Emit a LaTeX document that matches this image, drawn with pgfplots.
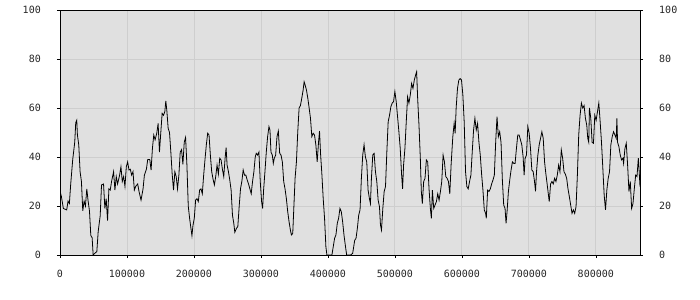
\documentclass[border=0pt]{standalone}
\usepackage{fontspec}
\setmainfont{DejaVu Sans Mono}
\usepackage{pgfplots}
\pgfplotsset{compat=1.18}
\definecolor{bgc}{RGB}{224,224,224}
\definecolor{gridc}{RGB}{206,206,206}
\pgfplotstableread{
x y
0 26
2000 24
5000 19
10000 18.4
12000 22
14000 21
16000 29
19000 39
22000 46
23500 54
25000 55
26000 49
28000 45
30000 34
32000 30
34000 18
36000 22
38000 20
40000 27
42000 22
44000 18
46000 8
48000 7
49500 0
52000 0.7
55000 1.4
57000 9.5
60000 16
62000 28.6
65000 29
67000 19
69000 23
71000 14
73000 27
75000 26.5
77000 30
80000 34
82000 26.5
84000 32
86000 29
89000 32.6
91000 36
93000 30
95000 32
97000 28
99000 36
101000 38
103000 34.7
105000 35
107000 32.6
109000 34
111000 26.5
113000 28
116000 29
118000 25.9
121000 22.4
124000 27
126000 32.6
129000 35
131000 39
134000 39
136000 34.7
138000 43.5
140000 49
142000 47
144500 49.7
146500 53.7
148500 42
150500 50
152500 57.8
154500 57
156500 58.5
158000 62.9
159500 59
161500 51.7
163500 50
165500 42
167500 33
169500 26.5
171500 34
173500 32
175500 27
177500 32.6
179500 42
181500 43
183500 37
185500 46
187500 48
189500 36.7
191500 20
193500 15
195500 10.9
197000 7.9
198500 12
200500 15
202500 22.4
204500 23
206500 21.8
208500 26.5
210500 27
212500 25
214500 32.6
216500 39
218500 45
220500 49.7
222500 49
224500 40.8
226500 34
228500 31
230500 28.6
232500 32
234500 36.7
236500 33
238500 39.5
240500 38.8
242500 35
244500 32
246500 39.5
248000 43.8
249500 36.7
251500 34
253500 30.6
255500 26.5
257500 16.3
259500 12.9
261000 9.3
263500 10.9
265500 11.6
267500 19.7
269500 27
271500 30
273500 34.7
275500 32.6
277500 32.6
279500 30.6
281500 29
283500 27
285500 25
287500 30
289500 34
291500 40
293000 41.5
295000 40.8
297000 42
299000 30
301000 21.8
302500 19
304000 26.5
306000 34
308000 42
310000 48.3
312000 52.4
313500 51
315000 42
317000 40.8
318500 37.4
320000 39.5
322000 40.8
324000 48.3
326000 50.6
328000 41.5
330000 40.8
332000 38
334000 30
336000 27
338000 23
340000 17.7
342000 13.6
344000 10.2
345500 8.2
347500 8.8
349000 18.4
351000 31.3
353000 38
355000 50.3
357000 60
359000 61
361000 64
363000 67.3
364500 70.7
366000 69.4
368000 67.3
370000 64
372000 60
374000 55.8
376000 48.3
378000 49.7
380000 49
382000 45
384000 38
386000 46
387500 50.6
389000 41.5
391000 33
393000 23
395000 15
397000 3.4
398500 0
406000 0
408000 3.4
410000 6.8
412000 8.2
414000 12.9
416000 15
418000 19
420000 17.7
422000 13.6
424000 8.2
426000 4
428000 0
434000 0
437000 0.7
440000 6
442000 6.8
444000 10.9
446000 16.3
448000 18.4
450000 31.3
452000 40.8
454000 45
456000 40
458000 38
460000 26.5
462000 23
463500 21
465000 31.3
467000 40.8
469000 41.5
471000 34
473000 30
475000 22.4
477000 19.7
478500 12.2
480000 10.2
482000 19
484000 25.9
486000 27.9
488000 42
490000 54.4
492000 57
494000 60.5
496000 62
498000 62.6
500000 66.7
502000 62.6
504000 56.5
506000 50.3
508000 43.5
510000 33
511500 27
513000 36.7
515000 43.5
517000 54.4
519000 64.6
521000 62
523000 65.3
525000 70
527000 68
529000 71.4
531000 73.5
532500 74.8
534000 64
536000 53
538000 39.5
539500 25.9
541000 21
543000 30
545000 31.3
547000 38.8
549000 38
551000 27
553000 19
554500 15
556000 26.5
558000 19
560000 20.4
562000 21.8
564000 25
566000 22.4
568000 25.9
570000 30
572000 40.8
574000 38
576000 32
578000 31.3
580000 30
582000 25
584000 37
586500 48.3
588500 53.7
590000 49.7
591500 60
593500 68
595500 71.4
597500 72
599500 71.4
601500 65.3
603500 54.4
605500 34
607500 27.9
609500 27
611500 30
613500 32.6
615500 42
617500 51
619500 55.8
621500 51
623500 53.7
625500 46
627500 40.8
629500 33
631500 26.5
633500 18.4
635500 17
636500 15
638500 26.5
640500 25.9
642500 27
644500 29
646500 30.6
648500 32.6
650500 46
652500 56.5
654500 48.3
656500 50.3
658500 46
660500 30.6
662500 20.4
664500 19
666000 12.9
667500 17.7
669500 25.9
671500 30.6
673500 34.7
675500 38
677500 37.4
679500 37.4
681500 43.5
683500 49
685500 49
687500 47
689500 45
691500 40
693000 32.6
694500 39.5
696500 40.8
698500 52.4
700500 49.7
702500 43.5
704500 34.7
706500 34
708500 30
710000 26
711500 34
713500 40.8
715500 45
717500 47.6
719500 50.3
721500 47.6
723500 38
725500 33
727500 28.6
729500 24
730500 21.8
732500 29
734500 30
736500 29
738500 31.3
740500 30
742500 32.6
744500 36.7
746500 34
748500 42.9
750500 39.5
752500 34
754500 33
756500 31.3
758500 27
760500 23.8
762500 20.4
764500 17
766500 18.4
768500 17
770500 19.7
772500 32.6
774500 49
776500 57
778500 62
780500 60
782500 61
784500 55.8
786500 53
788000 47.6
789500 46
790500 60
792500 55.8
794500 46
796500 45.6
798500 57
800500 55
802500 58.5
804500 62
806500 54.4
808500 46
810500 35.4
812500 24.5
814500 18.4
816500 26.5
818500 31.3
820500 34
822500 45
824500 48.3
826500 50.3
828500 49
830500 47.6
831500 55.8
832500 46
834500 44.2
836500 40.8
838500 38.8
840500 39.5
841500 37.4
843500 43.5
845500 45.6
847500 36.7
849500 25.9
851500 30
853500 19
855500 21
857500 27
859500 32.6
861500 32
863500 39.5
864500 35.4
866000 27.9
}\series

\pgfplotsset{
  common/.style={
    at={(60bp,45bp)}, anchor=south west,
    scale only axis, width=580bp, height=245bp,
    xmin=0, xmax=866000, ymin=0, ymax=100,
    xtick={0,100000,...,800000},
    ytick={0,20,...,100},
    scaled x ticks=false,
    tick align=outside,
    major tick length=3bp,
    tick style={black, line width=0.6bp},
    axis line style={black, line width=0.8bp},
    /pgf/number format/assume math mode=true,
    /pgf/number format/fixed,
    /pgf/number format/1000 sep={},
    every tick label/.append style={font=\fontsize{10bp}{12bp}\selectfont, text=black!85},
  }
}

\begin{document}
\begin{tikzpicture}
\path[use as bounding box] (0,0) rectangle (700bp,300bp);
\begin{axis}[common,
  axis background/.style={fill=bgc},
  grid=major,
  major grid style={gridc, line width=0.8bp},
  xtick pos=left, ytick pos=left,
  yticklabel style={anchor=east, inner sep=0pt, xshift=-16bp},
  xticklabel style={anchor=north, inner sep=0pt, yshift=-12bp},
]
\addplot[black, line width=0.8bp, mark=none] table[x=x, y=y] {\series};
\end{axis}
\begin{axis}[common,
  hide x axis,
  axis x line=none,
  axis y line*=right,
  ytick pos=right,
  yticklabel pos=right,
  yticklabel style={anchor=west, inner sep=0pt, xshift=16bp},
]
\end{axis}
\end{tikzpicture}
\end{document}
